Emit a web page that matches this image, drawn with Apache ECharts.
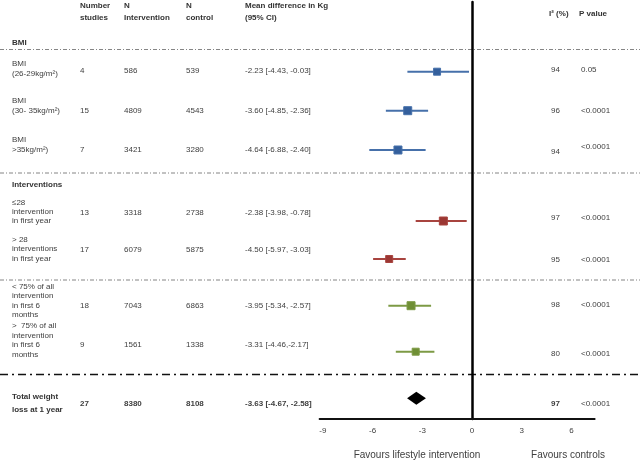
<!DOCTYPE html>
<html><head><meta charset="utf-8">
<script src="https://cdn.jsdelivr.net/npm/echarts@6/dist/echarts.min.js"></script>
<style>html,body{margin:0;padding:0;background:#fff}#c{width:640px;height:462px}</style>
</head><body><div id="c"></div>
<script>
// ---- data ----
const rowLabels = ['BMI\n(26-29kg/m²)', 'BMI\n(30- 35kg/m²)', 'BMI\n>35kg/m²)', '≤28\nintervention\nin first year', '> 28\ninterventions\nin first year', '< 75% of all\nintervention\nin first 6\nmonths', '>  75% of all\nintervention\nin first 6\nmonths', 'Total weight\nloss at 1 year'];
const studies = ['4', '15', '7', '13', '17', '18', '9', '27'];
const nIntervention = ['586', '4809', '3421', '3318', '6079', '7043', '1561', '8380'];
const nControl = ['539', '4543', '3280', '2738', '5875', '6863', '1338', '8108'];
const meanText = ['-2.23 [-4.43, -0.03]', '-3.60 [-4.85, -2.36]', '-4.64 [-6.88, -2.40]', '-2.38 [-3.98, -0.78]', '-4.50 [-5.97, -3.03]', '-3.95 [-5.34, -2.57]', '-3.31 [-4.46,-2.17]', '-3.63 [-4.67, -2.58]'];
const i2 = ['94', '96', '94', '97', '95', '98', '80', '97'];
const pValue = ['0.05', '<0.0001', '<0.0001', '<0.0001', '<0.0001', '<0.0001', '<0.0001', '<0.0001'];
// plotted estimates (as drawn)
const estMean = [-2.11, -3.88, -4.47, -1.73, -5.00, -3.68, -3.40];
const estLow = [-3.90, -5.20, -6.20, -3.40, -5.97, -5.05, -4.60];
const estHigh = [-0.18, -2.65, -2.80, -0.32, -4.00, -2.47, -2.27];
const totalEst = [-3.92, -3.36, -2.78];
const xTicks = [-9, -6, -3, 0, 3, 6];
const headers = [['Number\nstudies', 'N\nIntervention', 'N\ncontrol', 'Mean difference in Kg\n(95% CI)'], ['I² (%)', 'P value']];
const groupTitles = ['BMI', 'Interventions'];
const favours = ['Favours lifestyle intervention', 'Favours controls'];

// ---- layout ----
const markerY = [71.7, 110.7, 150, 221, 259, 305.7, 351.7, 398.3];
const valueY = [70.5, 110.5, 150, 212.5, 249.3, 305.7, 345, 403.5];
const labelY = [68.5, 105.7, 145, 211.7, 249.2, 300.8, 340.2, 403.5];
const statY = [[69.5, 69.5], [110.7, 110.7], [151.7, 146.7], [217.7, 217.7], [259.3, 259.3], [304.5, 304.5], [353.3, 353.3], [403.5, 403.5]];
const colX = [12, 80, 124, 186, 245, 551, 581];
const sqSize = [7, 8, 8, 8, 7, 8, 7];
const lineCol = ['#4670aa', '#4670aa', '#4670aa', '#a8443f', '#a8443f', '#7d9a45', '#7d9a45'];
const sqCol = ['#345f9c', '#345f9c', '#345f9c', '#9b3733', '#9b3733', '#6f8f35', '#6f8f35'];

const FF = '"Liberation Sans", Arial, sans-serif';
const TXT = '#404040';
const graphics = [];
function txt(text, x, y, opt) {
  opt = opt || {};
  graphics.push({type: 'text', silent: true, style: Object.assign({text: text, x: x, y: y, fill: opt.fill || TXT,
    fontFamily: FF, fontSize: opt.size || 8, fontWeight: opt.bold ? 'bold' : 'normal',
    lineHeight: opt.lh || 10, verticalAlign: 'middle', align: opt.align || 'left'})});
}
// headers
[80, 124, 186, 245].forEach((x, i) => txt(headers[0][i], x, 12, {bold: true, lh: 12, fill: '#333'}));
txt(headers[1][0], 549, 14, {bold: true, fill: '#333'});
txt(headers[1][1], 579, 14, {bold: true, fill: '#333'});
txt(groupTitles[0], 12, 42.5, {bold: true, fill: '#333'});
txt(groupTitles[1], 12, 185, {bold: true, fill: '#333'});
const lhs = [10, 10, 10, 9.4, 9.2, 9.5, 9.8, 12.5];
for (let i = 0; i < rowLabels.length; i++) {
  const b = i === 7;
  txt(rowLabels[i], colX[0], labelY[i], {lh: lhs[i], bold: b, fill: b ? '#333' : TXT});
  txt(studies[i], colX[1], valueY[i], {bold: b});
  txt(nIntervention[i], colX[2], valueY[i], {bold: b});
  txt(nControl[i], colX[3], valueY[i], {bold: b});
  txt(meanText[i], colX[4], valueY[i], {bold: b});
  txt(i2[i], colX[5], statY[i][0], {bold: b});
  txt(pValue[i], colX[6], statY[i][1]);
}
txt(favours[0], 417, 455, {size: 10, align: 'center'});
txt(favours[1], 568, 455, {size: 10, align: 'center'});
// separators
[49.5, 173, 280].forEach(y => graphics.push({type: 'line', silent: true, z: -1,
  shape: {x1: 0, y1: y, x2: 640, y2: y}, style: {stroke: '#666', lineWidth: 0.8, lineDash: [4, 2, 1, 2]}}));
graphics.push({type: 'line', silent: true, z: -1, shape: {x1: 0, y1: 374.5, x2: 640, y2: 374.5},
  style: {stroke: '#111', lineWidth: 1.6, lineDash: [8, 4, 2, 4]}});

const forestData = estMean.map((m, i) => [estLow[i], m, estHigh[i], markerY[i]]);

const chart = echarts.init(document.getElementById('c'), null, {renderer: 'canvas'});
chart.setOption({
  animation: false,
  backgroundColor: '#fff',
  grid: {left: 319.6, right: 45.4, top: 2, bottom: 43},
  xAxis: {type: 'value', min: -9.2, max: 7.4, position: 'bottom',
    axisLine: {onZero: false, lineStyle: {color: '#111', width: 2}},
    axisTick: {show: false}, splitLine: {show: false},
    axisLabel: {customValues: xTicks, fontSize: 8, fontFamily: FF, color: TXT, margin: 8}},
  yAxis: {type: 'value', min: 2, max: 419, inverse: true,
    axisLine: {show: true, onZero: true, lineStyle: {color: '#000', width: 2.5}},
    axisTick: {show: false}, axisLabel: {show: false}, splitLine: {show: false}},
  graphic: graphics,
  series: [
    {type: 'custom', data: forestData, encode: {x: [0, 1, 2], y: 3},
      renderItem: function (params, api) {
        const i = params.dataIndex;
        const y = api.value(3);
        const lo = api.coord([api.value(0), y]);
        const m = api.coord([api.value(1), y]);
        const hi = api.coord([api.value(2), y]);
        const s = sqSize[i];
        return {type: 'group', children: [
          {type: 'line', shape: {x1: lo[0], y1: lo[1], x2: hi[0], y2: hi[1]}, style: {stroke: lineCol[i], lineWidth: 2}},
          {type: 'rect', shape: {x: m[0] - s / 2, y: m[1] - s / 2, width: s, height: s}, style: {fill: sqCol[i], stroke: lineCol[i], lineWidth: 1}}
        ]};
      }},
    {type: 'custom', data: [[totalEst[0], totalEst[1], totalEst[2], markerY[7]]], encode: {x: [0, 1, 2], y: 3},
      renderItem: function (params, api) {
        const y = api.value(3);
        const lo = api.coord([api.value(0), y]);
        const m = api.coord([api.value(1), y]);
        const hi = api.coord([api.value(2), y]);
        return {type: 'polygon', shape: {points: [[lo[0], lo[1]], [m[0], m[1] - 6.5], [hi[0], hi[1]], [m[0], m[1] + 6.5]]},
          style: {fill: '#000'}};
      }}
  ]
});
</script></body></html>
